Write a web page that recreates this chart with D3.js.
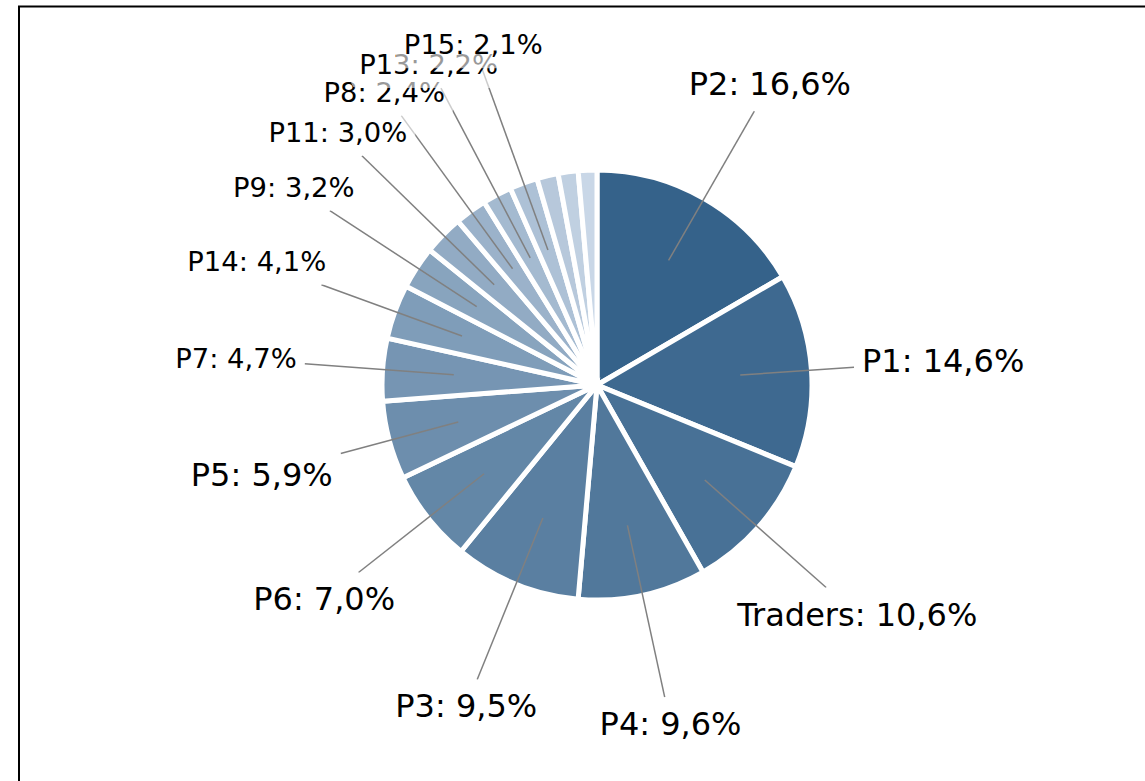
<!DOCTYPE html>
<html>
<head>
<meta charset="utf-8">
<script src="https://cdn.jsdelivr.net/npm/d3@7"></script>
<style>
  body { margin: 0; background: #fff; }
  svg { display: block; font-family: "DejaVu Sans", sans-serif; }
</style>
</head>
<body>
<svg id="chart" width="1145" height="781"></svg>
<script>
// slices, clockwise from 12 o'clock
var categories = ["P2", "P1", "Traders", "P4", "P3", "P6", "P5", "P7", "P14", "P9", "P11", "P8", "P13", "P15", "P10", "P12", "P16"];
var shares = [16.6, 14.6, 10.6, 9.6, 9.5, 7.0, 5.9, 4.7, 4.1, 3.2, 3.0, 2.4, 2.2, 2.1, 1.6, 1.5, 1.4];

var width = 1145, height = 781;
var cx = 597, cy = 385, radius = 215;

var svg = d3.select("#chart");

// frame
svg.append("rect")
    .attr("x", 19)
    .attr("y", 6.5)
    .attr("width", 1300)
    .attr("height", 1000)
    .attr("fill", "none")
    .attr("stroke", "#000")
    .attr("stroke-width", 2);

var data = categories.map(function(c, i){ return {name: c, value: shares[i]}; });
var total = d3.sum(shares);

var pie = d3.pie()
    .sort(null)
    .value(function(d){ return d.value; })
    .startAngle(0)
    .endAngle(2 * Math.PI);

var arcs = pie(data);

var color = d3.scaleLinear()
    .domain([0, categories.length - 1])
    .range(["#35628a", "#c9d7e7"])
    .interpolate(d3.interpolateRgb);

var arc = d3.arc().innerRadius(0).outerRadius(radius);

var g = svg.append("g").attr("transform", "translate(" + cx + "," + cy + ")");

g.selectAll("path.slice")
    .data(arcs)
    .enter().append("path")
    .attr("class", "slice")
    .attr("d", arc)
    .attr("fill", function(d, i){ return color(i); })
    .attr("stroke", "#fff")
    .attr("stroke-width", 5)
    .attr("stroke-linejoin", "miter");

var lineLayer = g.append("g");
var labelLayer = g.append("g");

// labels only for slices of 2% and more
var labelled = arcs.filter(function(d){ return d.data.value / total * 100 >= 2; });
var fmt = d3.format(".1f");

labelled.forEach(function(d){
    var pct = d.data.value / total * 100;
    var big = pct >= 5;
    var mid = (d.startAngle + d.endAngle) / 2;
    var dx = Math.sin(mid), dy = -Math.cos(mid);
    var rText = big ? 347 : 362;
    var tx = dx * rText, ty = dy * rText;

    var lg = labelLayer.append("g");
    var box = lg.append("rect");

    var text = lg.append("text")
        .attr("x", tx)
        .attr("y", ty)
        .attr("dy", "0.346em")
        .attr("text-anchor", "middle")
        .style("font-size", big ? "32px" : "27.4px")
        .attr("fill", "#000")
        .text(d.data.name + ": " + fmt(pct).replace(".", ",") + "%");

    // half transparent white box behind the text
    var bb = text.node().getBBox();
    var pad = 8;
    box.attr("x", bb.x - pad)
        .attr("y", bb.y - pad)
        .attr("width", bb.width + 2 * pad)
        .attr("height", bb.height + 2 * pad)
        .attr("rx", 6)
        .attr("fill", "#fff")
        .attr("fill-opacity", 0.6);

    // leader line, from inside the slice to the box edge
    var hw = bb.width / 2 + pad, hh = bb.height / 2 + pad;
    var bx = bb.x + bb.width / 2, by = bb.y + bb.height / 2;
    var s = Math.min(Math.abs(dx) > 1e-6 ? hw / Math.abs(dx) : Infinity,
                     Math.abs(dy) > 1e-6 ? hh / Math.abs(dy) : Infinity);
    var ex = bx - dx * s, ey = by - dy * s;
    var r0 = radius * 0.668;

    lineLayer.append("line")
        .attr("x1", dx * r0)
        .attr("y1", dy * r0)
        .attr("x2", ex)
        .attr("y2", ey)
        .attr("stroke", "#808080")
        .attr("stroke-width", 1.5);
});
</script>
</body>
</html>
